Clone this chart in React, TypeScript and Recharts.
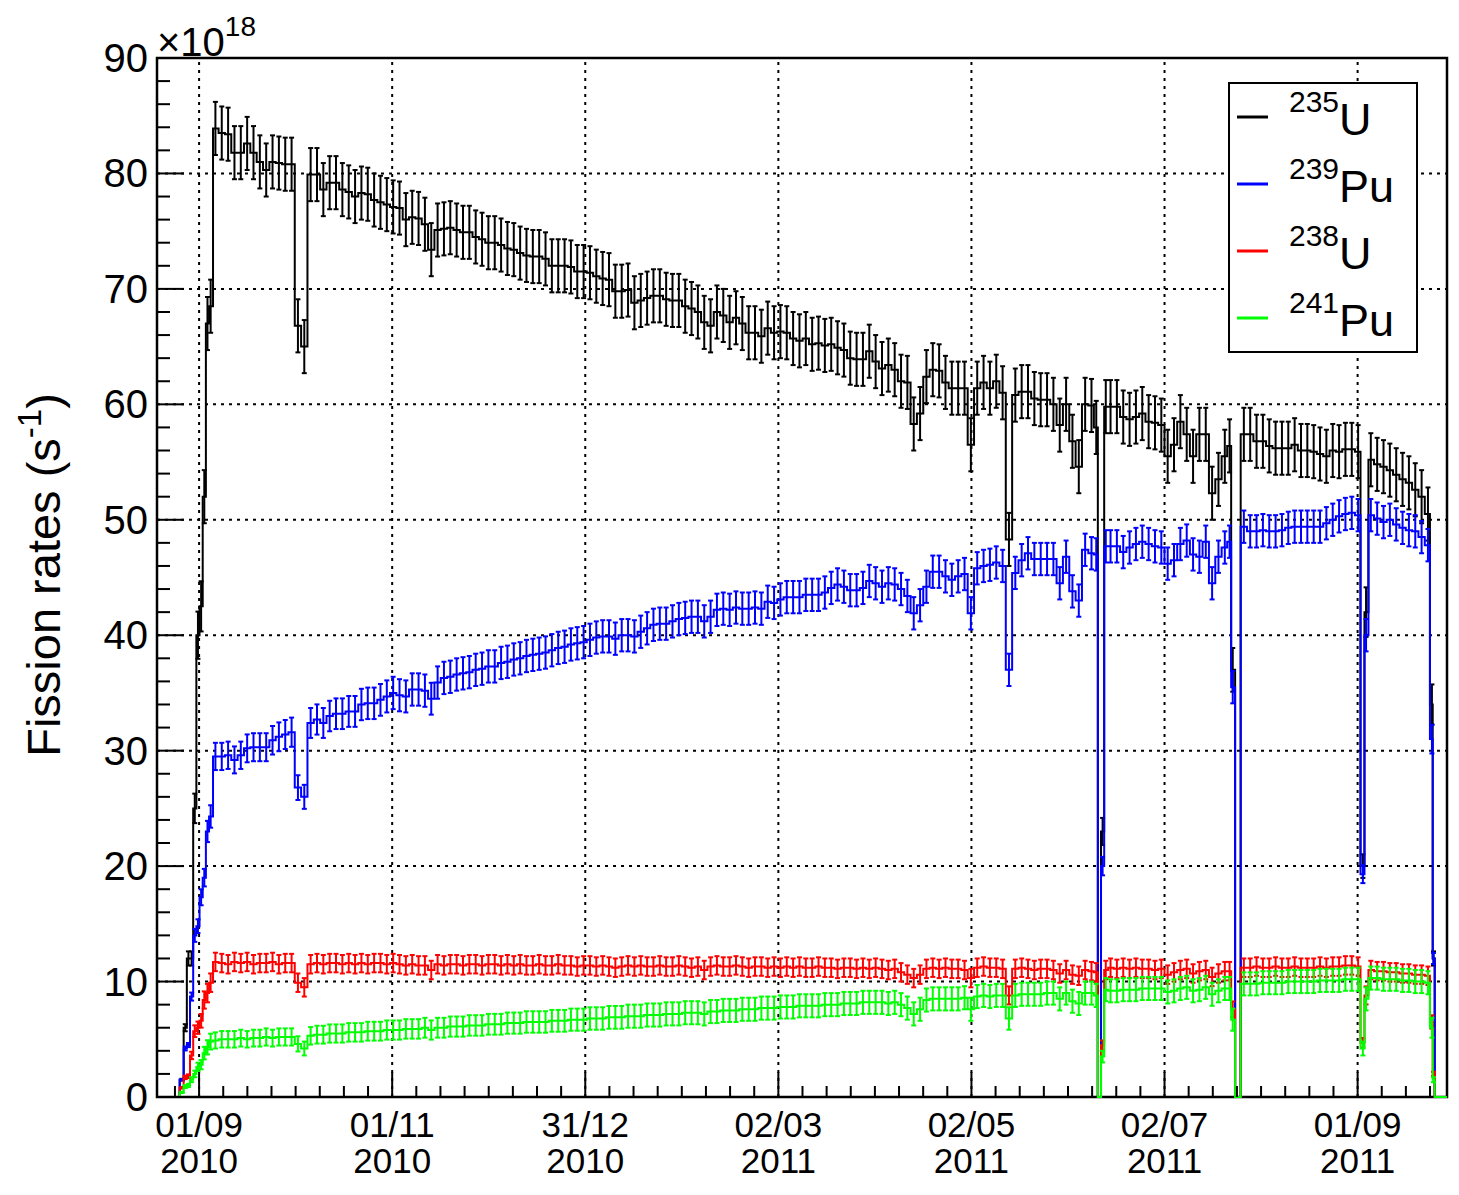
import React from 'react';
import { ComposedChart, Line, XAxis, YAxis, ErrorBar, ReferenceLine, ReferenceArea } from 'recharts';

// ---------- binning (days since ~18 Aug 2010): [start, end, bin width] ----------
const BIN_SEGMENTS: [number, number, number][] = [
  [0, 8, 2], [8, 18, 1], [18, 296, 2], [296, 300, 1], [300, 338, 2], [338, 340, 1],
  [340, 380, 2], [380, 382, 1], [382, 402, 2], [402, 403, 0.5], [403, 404, 1], [404, 406, 2], [406, 407, 1],
];
const X_MIN = 0.6;
const X_MAX = 407;

// ---------- series values (x10^18 fissions / s) ----------
const U235: number[] = [
  0, 0, 0, 0,
  1.5, 6, 12, 12, 25, 40, 42.5, 52, 67, 68.5,
  83.9, 83.5, 83.4, 81.8, 81.8, 82.6, 81.8, 81.0, 80.3, 81.0,
  80.9, 80.8, 80.8, 66.8, 65.0, 79.9, 79.9, 78.6, 79.2, 79.2,
  78.6, 78.4, 78.0, 78.3, 78.2, 77.7, 77.5, 77.3, 77.1, 77.0,
  76.0, 76.2, 76.1, 75.6, 73.4, 75.1, 75.2, 75.3, 75.1, 74.9,
  74.9, 74.5, 74.3, 74.0, 74.0, 73.8, 73.5, 73.4, 73.1, 72.9,
  72.8, 72.8, 72.6, 72.0, 72.0, 72.0, 71.9, 71.5, 71.5, 71.4,
  71.1, 70.9, 70.8, 69.8, 69.8, 69.9, 68.8, 69.0, 69.2, 69.4,
  69.4, 69.1, 69.0, 69.0, 68.5, 68.3, 68.0, 67.1, 66.8, 68.0,
  67.7, 67.1, 67.5, 67.0, 66.2, 66.2, 65.9, 66.6, 66.2, 66.3,
  66.2, 65.7, 65.5, 65.7, 65.2, 65.3, 65.1, 65.2, 64.9, 64.7,
  64.0, 63.9, 63.9, 64.6, 63.7, 63.1, 63.4, 63.0, 62.0, 61.9,
  58.3, 59.2, 62.4, 63.0, 62.9, 61.9, 61.4, 61.4, 61.4, 56.5,
  61.4, 61.9, 61.4, 62.0, 61.0, 48.3, 60.8, 61.1, 61.1, 60.5,
  60.4, 60.4, 60.0, 58.2, 60.0, 56.8, 54.6, 60.0, 59.9,
  58.0, 0, 23, 59.8,
  59.8, 59.8, 58.9, 58.7, 58.9, 59.2, 58.5, 58.4, 58.2, 55.5,
  56.5, 58.5, 57.4, 55.5, 57.4, 57.4, 52.3, 53.5, 55.5,
  56.4, 37,
  0, 57.4, 57.4, 56.8, 56.8, 56.4, 56.2, 56.2, 56.2, 56.5,
  56.0, 56.0, 55.9, 55.7, 55.5, 56.0, 55.9, 56.1, 56.1, 55.9,
  20, 42,
  55.2, 54.8, 54.6, 54.3, 53.9, 53.5, 53.2, 52.6, 52.0, 50.5,
  34, 12,
  0, 0, 0,
];

const PU239: number[] = [
  0, 0, 0, 0,
  1.5, 4.2, 4.5, 8.7, 14, 14.8, 17.3, 19, 23, 24.3,
  29.5, 29.5, 29.6, 29.2, 29.6, 30.2, 30.3, 30.3, 30.3, 30.9,
  31.2, 31.4, 31.6, 26.8, 26.0, 32.4, 32.7, 32.4, 33.0, 33.2,
  33.2, 33.4, 33.4, 34.0, 34.1, 34.1, 34.4, 34.7, 35.0, 34.8,
  34.7, 35.3, 35.3, 35.2, 34.5, 35.9, 36.3, 36.4, 36.6, 36.7,
  36.8, 37.0, 37.1, 37.3, 37.3, 37.6, 37.7, 37.9, 38.0, 38.2,
  38.3, 38.4, 38.5, 38.7, 38.9, 39.0, 39.2, 39.3, 39.4, 39.6,
  39.8, 39.9, 39.9, 39.7, 40.0, 40.0, 39.9, 40.3, 40.6, 40.9,
  41.0, 41.0, 41.2, 41.4, 41.5, 41.6, 41.6, 41.2, 41.6, 42.2,
  42.3, 42.2, 42.4, 42.3, 42.3, 42.4, 42.3, 42.9, 42.8, 43.1,
  43.3, 43.3, 43.3, 43.5, 43.5, 43.5, 43.7, 44.1, 44.4, 44.2,
  43.9, 43.9, 44.1, 44.7, 44.5, 44.2, 44.5, 44.4, 44.0, 43.4,
  41.9, 42.6, 44.2, 45.5, 45.5, 45.1, 44.8, 45.1, 45.3, 41.9,
  45.8, 46.0, 46.1, 46.3, 46.0, 37.0, 45.4, 46.5, 47.1, 46.6,
  46.6, 46.6, 46.6, 44.5, 46.8, 43.8, 43.0, 47.4, 47.1,
  47.0, 0, 20, 47.7,
  47.7, 47.7, 47.2, 47.6, 47.9, 48.1, 47.9, 47.7, 47.6, 46.2,
  46.5, 47.9, 48.2, 47.0, 46.8, 48.1, 44.5, 46.8, 47.6,
  48.1, 35.5,
  0, 49.4, 49.0, 49.0, 49.1, 49.0, 49.0, 49.1, 49.3, 49.4,
  49.4, 49.4, 49.4, 49.4, 49.7, 50.0, 50.3, 50.5, 50.6, 50.4,
  19.3, 40,
  50.4, 50.1, 49.8, 50.0, 49.6, 49.3, 49.1, 49.0, 48.5, 47.8,
  31, 12,
  0, 0, 0,
];

const U238: number[] = [
  0, 0, 0, 0,
  0.8, 1.7, 1.8, 3.6, 5.7, 6.0, 6.6, 8.4, 9.0, 9.9,
  11.7, 11.6, 11.5, 11.7, 11.6, 11.7, 11.5, 11.6, 11.6, 11.7,
  11.5, 11.6, 11.6, 9.9, 9.5, 11.5, 11.6, 11.5, 11.6, 11.6,
  11.5, 11.6, 11.5, 11.6, 11.5, 11.6, 11.6, 11.5, 11.6, 11.5,
  11.4, 11.5, 11.4, 11.4, 11.0, 11.5, 11.4, 11.5, 11.5, 11.4,
  11.5, 11.5, 11.4, 11.5, 11.5, 11.4, 11.5, 11.4, 11.5, 11.4,
  11.4, 11.5, 11.4, 11.4, 11.5, 11.4, 11.4, 11.3, 11.4, 11.4,
  11.3, 11.4, 11.3, 11.2, 11.3, 11.4, 11.3, 11.4, 11.3, 11.3,
  11.4, 11.3, 11.3, 11.4, 11.3, 11.2, 11.3, 11.0, 11.3, 11.4,
  11.3, 11.3, 11.4, 11.3, 11.2, 11.3, 11.3, 11.2, 11.3, 11.2,
  11.3, 11.2, 11.3, 11.2, 11.2, 11.3, 11.2, 11.2, 11.1, 11.2,
  11.2, 11.1, 11.2, 11.1, 11.2, 11.1, 11.0, 11.1, 10.8, 10.6,
  10.3, 10.6, 11.1, 11.2, 11.1, 11.2, 11.1, 11.1, 11.0, 10.3,
  11.2, 11.3, 11.2, 11.2, 11.1, 8.8, 11.1, 11.2, 11.1, 11.0,
  11.1, 11.1, 11.0, 10.7, 11.0, 10.6, 10.5, 11.0, 10.9,
  10.8, 0, 4.5, 11.0,
  11.2, 11.1, 11.2, 11.1, 11.2, 11.1, 11.1, 11.0, 11.1, 10.6,
  10.8, 11.0, 11.1, 10.7, 10.9, 11.0, 10.4, 10.7, 10.9,
  10.9, 7.6,
  0, 11.2, 11.2, 11.3, 11.2, 11.2, 11.3, 11.2, 11.2, 11.3,
  11.2, 11.2, 11.2, 11.3, 11.2, 11.3, 11.3, 11.4, 11.4, 11.3,
  4.7, 8.8,
  11.0, 10.9, 10.9, 10.8, 10.8, 10.7, 10.7, 10.6, 10.6, 10.5,
  6.5, 2.0,
  0, 0, 0,
];

const PU241: number[] = [
  0, 0, 0, 0,
  0.4, 0.9, 1.0, 1.5, 2.0, 2.6, 2.8, 3.8, 4.3, 4.8,
  4.9, 5.0, 5.0, 5.0, 5.1, 5.0, 5.1, 5.1, 5.2, 5.1,
  5.2, 5.2, 5.2, 4.6, 4.2, 5.3, 5.4, 5.4, 5.5, 5.5,
  5.5, 5.6, 5.6, 5.6, 5.7, 5.7, 5.7, 5.8, 5.8, 5.8,
  5.9, 5.9, 5.9, 6.0, 5.8, 6.0, 6.0, 6.1, 6.1, 6.1,
  6.2, 6.2, 6.2, 6.3, 6.3, 6.3, 6.4, 6.4, 6.4, 6.5,
  6.5, 6.5, 6.5, 6.6, 6.6, 6.6, 6.7, 6.7, 6.7, 6.8,
  6.8, 6.8, 6.9, 6.9, 6.9, 7.0, 7.0, 7.0, 7.1, 7.1,
  7.1, 7.2, 7.2, 7.2, 7.3, 7.3, 7.3, 7.2, 7.4, 7.4,
  7.5, 7.5, 7.5, 7.6, 7.6, 7.6, 7.7, 7.7, 7.7, 7.8,
  7.8, 7.8, 7.9, 7.9, 7.9, 7.9, 8.0, 8.0, 8.0, 8.1,
  8.1, 8.1, 8.2, 8.2, 8.2, 8.2, 8.1, 8.2, 8.0, 7.7,
  7.2, 7.6, 8.4, 8.5, 8.5, 8.5, 8.5, 8.5, 8.6, 7.6,
  8.7, 8.8, 8.7, 8.8, 8.8, 6.8, 8.8, 8.9, 8.9, 8.9,
  8.9, 9.0, 9.0, 8.5, 9.0, 8.3, 8.1, 9.0, 9.0,
  8.8, 0, 3.5, 9.3,
  9.2, 9.2, 9.3, 9.3, 9.3, 9.4, 9.4, 9.4, 9.4, 9.1,
  9.2, 9.4, 9.5, 9.2, 9.3, 9.5, 8.9, 9.2, 9.4,
  9.4, 6.7,
  0, 9.8, 9.8, 9.8, 9.9, 9.9, 9.9, 9.9, 10.0, 10.0,
  10.0, 10.0, 10.0, 10.1, 10.1, 10.1, 10.1, 10.2, 10.2, 10.2,
  4.2, 8.5,
  10.3, 10.3, 10.2, 10.2, 10.2, 10.1, 10.1, 10.0, 10.0, 9.9,
  6.0, 1.5,
  0, 0, 0,
];

// typical absolute uncertainty of a full 2-day bin, per isotope
const ERR_FULL = { u235: 2.3, pu239: 1.4, u238: 0.8, pu241: 1.0 };
const ERR_REF = { u235: 45, pu239: 35, u238: 9, pu241: 7 };

// ---------- axis ticks ----------
const X_MAJOR_DAYS = [13.86, 74.69, 135.52, 196.35, 257.18, 318.01, 378.84];
const X_TICK_DATES = ['01/09', '01/11', '31/12', '02/03', '02/05', '02/07', '01/09'];
const X_TICK_YEARS = ['2010', '2010', '2010', '2011', '2011', '2011', '2011'];
const X_MINOR_DIV = 8;
const Y_MAJOR = [0, 10, 20, 30, 40, 50, 60, 70, 80, 90];
const Y_MINOR_STEP = 2;
const Y_MAX = 90;

const SERIES = [
  { key: 'u235', name: '235', sym: 'U', color: '#000000', values: U235 },
  { key: 'pu239', name: '239', sym: 'Pu', color: '#0000ff', values: PU239 },
  { key: 'u238', name: '238', sym: 'U', color: '#ff0000', values: U238 },
  { key: 'pu241', name: '241', sym: 'Pu', color: '#00ff00', values: PU241 },
];

// ---------- build table ----------
const DAYS: number[] = [];
BIN_SEGMENTS.forEach(([a, b, w]) => {
  for (let x = a; x < b - 1e-9; x += w) DAYS.push(x + w / 2);
});

const errOf = (v: number, k: string) =>
  v > 0 ? (ERR_FULL as any)[k] * Math.min(1, v / (ERR_REF as any)[k]) : 0;

const TABLE: any[] = [];
TABLE.push({ day: X_MIN, u235: 0, pu239: 0, u238: 0, pu241: 0, u235e: 0, pu239e: 0, u238e: 0, pu241e: 0 });
DAYS.forEach((d, i) => {
  const row: any = { day: d };
  SERIES.forEach((s) => {
    const v = s.values[i] ?? 0;
    row[s.key] = v;
    row[s.key + 'e'] = errOf(v, s.key);
  });
  TABLE.push(row);
});
TABLE.push({ day: X_MAX, u235: 0, pu239: 0, u238: 0, pu241: 0, u235e: 0, pu239e: 0, u238e: 0, pu241e: 0 });

const xStep = (X_MAJOR_DAYS[1] - X_MAJOR_DAYS[0]) / X_MINOR_DIV;
const X_TICKS: number[] = [...X_MAJOR_DAYS];
for (let i = -X_MINOR_DIV; i < X_MAJOR_DAYS.length * X_MINOR_DIV; i++) {
  if (i % X_MINOR_DIV === 0) continue;
  const d = X_MAJOR_DAYS[0] + i * xStep;
  if (d > X_MIN && d < X_MAX) X_TICKS.push(d);
}
X_TICKS.sort((a, b) => a - b);
const Y_TICKS: number[] = [];
for (let v = 0; v <= Y_MAX; v += Y_MINOR_STEP) Y_TICKS.push(v);

// ---------- layout ----------
const W = 1459;
const H = 1195;
const PLOT = { left: 157, right: 1447, top: 58, bottom: 1097 };
const FONT = '"Liberation Sans", Arial, Helvetica, sans-serif';

function XTick(props: any) {
  const { x, payload } = props;
  const i = X_MAJOR_DAYS.indexOf(payload.value);
  const major = i >= 0;
  return (
    <g>
      <line x1={x} x2={x} y1={PLOT.bottom} y2={PLOT.bottom - (major ? 25 : 11)} stroke="#000" strokeWidth={2} />
      {major && (
        <text textAnchor="middle" fontSize={35} fontFamily={FONT} fill="#000">
          <tspan x={x} y={PLOT.bottom + 40}>{X_TICK_DATES[i]}</tspan>
          <tspan x={x} y={PLOT.bottom + 76}>{X_TICK_YEARS[i]}</tspan>
        </text>
      )}
    </g>
  );
}

function YTick(props: any) {
  const { y, payload } = props;
  const major = Y_MAJOR.indexOf(payload.value) >= 0;
  return (
    <g>
      <line x1={PLOT.left} x2={PLOT.left + (major ? 27 : 13)} y1={y} y2={y} stroke="#000" strokeWidth={2} />
      {major && (
        <text x={PLOT.left - 9} y={y + 14} textAnchor="end" fontSize={40} fontFamily={FONT} fill="#000">
          {payload.value}
        </text>
      )}
    </g>
  );
}

const LEGEND_ROWS_Y = [117, 184, 251, 318];

export default function App() {
  return (
    <div style={{ position: 'absolute', left: 0, top: 0, width: W, height: H, background: '#fff' }}>
      <ComposedChart
        width={W}
        height={H}
        data={TABLE}
        margin={{ top: PLOT.top, right: W - PLOT.right, left: 0, bottom: 0 }}
      >
        <XAxis
          dataKey="day"
          type="number"
          domain={[X_MIN, X_MAX]}
          ticks={X_TICKS}
          interval={0}
          height={H - PLOT.bottom}
          tickLine={false}
          axisLine={false}
          tick={XTick}
        />
        <YAxis
          type="number"
          domain={[0, Y_MAX]}
          ticks={Y_TICKS}
          interval={0}
          width={PLOT.left}
          tickLine={false}
          axisLine={false}
          tick={YTick}
        />
        {Y_MAJOR.filter((v) => v > 0 && v < Y_MAX).map((v) => (
          <ReferenceLine key={'gy' + v} y={v} stroke="#000" strokeWidth={2} strokeDasharray="3 5" />
        ))}
        {X_MAJOR_DAYS.map((d) => (
          <ReferenceLine key={'gx' + d} x={d} stroke="#000" strokeWidth={2} strokeDasharray="3 5" />
        ))}
        {SERIES.map((s) => (
          <Line
            key={s.key}
            dataKey={s.key}
            type="step"
            stroke={s.color}
            strokeWidth={2}
            dot={false}
            activeDot={false}
            isAnimationActive={false}
          >
            <ErrorBar dataKey={s.key + 'e'} width={2.5} strokeWidth={2} stroke={s.color} direction="y" isAnimationActive={false} />
          </Line>
        ))}
        <ReferenceArea x1={X_MIN} x2={X_MAX} y1={0} y2={Y_MAX} fill="none" fillOpacity={0} stroke="#000" strokeWidth={2.5} />
      </ComposedChart>
      <svg width={W} height={H} style={{ position: 'absolute', left: 0, top: 0, pointerEvents: 'none' }}>
        <text x={157} y={56} fontSize={40} fontFamily={FONT} fill="#000">
          ×10
          <tspan fontSize={28} dy={-20}>18</tspan>
        </text>
        <text
          transform="translate(60,575) rotate(-90)"
          textAnchor="middle"
          fontSize={47}
          fontFamily={FONT}
          fill="#000"
        >
          Fission rates (s
          <tspan fontSize={33} dy={-19}>-1</tspan>
          <tspan dy={19}>)</tspan>
        </text>
        <rect x={1229} y={83} width={188} height={269} fill="#fff" stroke="#000" strokeWidth={2} />
        {SERIES.map((s, i) => {
          const cy = LEGEND_ROWS_Y[i];
          return (
            <g key={'lg' + s.key}>
              <line x1={1237} x2={1268} y1={cy} y2={cy} stroke={s.color} strokeWidth={3} />
              <text fontFamily={FONT} fill="#000">
                <tspan x={1289} y={cy - 5} fontSize={30}>{s.name}</tspan>
                <tspan y={cy + 18} fontSize={45}>{s.sym}</tspan>
              </text>
            </g>
          );
        })}
      </svg>
    </div>
  );
}
